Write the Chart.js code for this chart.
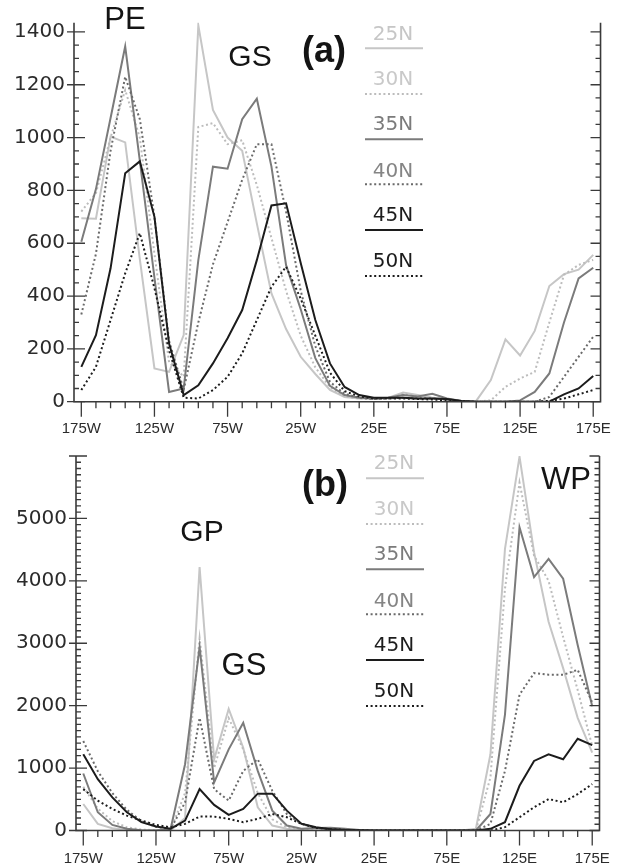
<!DOCTYPE html>
<html><head><meta charset="utf-8">
<script src="https://cdn.jsdelivr.net/npm/chart.js@4.4.1/dist/chart.umd.min.js"></script>
<style>
html,body{margin:0;padding:0;background:#fff;width:629px;height:867px;overflow:hidden}
canvas{position:absolute;left:0}
#ca{top:0}
#cb{top:435px}
</style></head><body>
<canvas id="ca" width="629" height="435"></canvas>
<canvas id="cb" width="629" height="432"></canvas>
<script>
// ---------------- data ----------------
const lon = [-175,-165,-155,-145,-135,-125,-115,-105,-95,-85,-75,-65,-55,-45,-35,-25,-15,-5,5,15,25,35,45,55,65,75,85,95,105,115,125,135,145,155,165,175];
const seriesNames = ['25N','30N','35N','40N','45N','50N'];

// panel (a)
const a25 = [695,693,1004,982,540,126,113,252,1425,1105,1000,950,675,410,275,170,105,45,18,12,12,15,35,25,15,8,3,3,82,236,175,268,438,483,500,556];
const a30 = [720,790,1000,1180,1000,560,150,95,1040,1055,975,990,820,620,420,250,130,55,20,12,12,15,30,20,15,8,2,0,5,56,88,113,300,480,518,537];
const a35 = [606,805,1074,1345,913,470,37,50,536,890,882,1070,1147,890,517,350,165,60,25,15,12,15,25,20,30,12,3,0,0,0,5,37,107,300,467,507];
const a40 = [330,560,950,1230,1070,700,230,45,300,520,680,840,975,975,720,420,210,75,30,15,10,12,15,12,12,8,2,0,0,0,0,0,18,94,170,246];
const a45 = [132,252,505,865,910,700,220,25,62,145,240,347,536,743,751,525,309,145,56,25,15,15,15,12,12,10,3,0,0,0,0,0,0,28,50,97];
const a50 = [44,132,309,486,638,430,195,15,12,44,94,183,309,435,511,390,250,110,40,20,12,12,12,10,8,5,2,0,0,0,0,0,3,12,28,44];

// panel (b)
const b25 = [425,106,37,10,0,0,0,200,4220,1141,1948,1327,372,80,27,10,5,5,5,0,0,0,0,0,0,0,0,27,1221,4512,5990,4459,3344,2601,1805,1247];
const b30 = [700,350,150,50,15,5,0,600,3079,1000,1800,1300,600,180,50,15,10,5,5,0,0,0,0,0,0,0,0,0,850,3875,5573,4405,4000,3100,2250,1350];
const b35 = [913,292,90,27,5,0,20,1062,2940,770,1300,1725,955,318,80,27,40,45,30,10,0,0,0,0,0,0,0,0,265,1858,4857,4060,4352,4034,2972,1990];
const b40 = [1433,950,600,330,150,60,20,450,1805,663,478,955,1141,637,265,106,42,20,10,5,0,0,0,0,0,0,0,0,106,955,2176,2521,2495,2495,2574,2050];
const b45 = [1221,823,531,292,133,64,27,159,663,410,250,345,590,590,318,110,53,20,10,5,0,0,0,0,0,0,0,0,27,133,716,1115,1221,1141,1470,1369];
const b50 = [663,478,345,239,160,90,50,106,223,223,186,133,186,265,212,106,42,20,10,5,0,0,0,0,0,0,0,0,0,53,212,372,504,451,584,743];

// ticks
const xTickValues = [-175,-125,-75,-25,25,75,125,175];
const xTickLabels = ['175W','125W','75W','25W','25E','75E','125E','175E'];
const yTicksA = [0,200,400,600,800,1000,1200,1400];
const yTicksB = [0,1000,2000,3000,4000,5000];

// ---------------- styles ----------------
const styles = [
  {color:'#c6c6c6', text:'#c6c6c6', dash:[]},
  {color:'#bcbcbc', text:'#c9c9c9', dash:[2,2.6]},
  {color:'#7b7b7b', text:'#7b7b7b', dash:[]},
  {color:'#6a6a6a', text:'#858585', dash:[2,2.6]},
  {color:'#1c1c1c', text:'#1c1c1c', dash:[]},
  {color:'#1c1c1c', text:'#1c1c1c', dash:[2,2.6]}
];

function decorPlugin(cfg){
  return {
    id:'decor',
    afterDatasetsDraw(chart){
      const {ctx, chartArea:ca, scales:{x,y}} = chart;
      ctx.save();
      ctx.strokeStyle = '#3a3a3a';
      ctx.lineWidth = 1.6;
      ctx.beginPath();
      ctx.moveTo(ca.left, ca.top); ctx.lineTo(ca.left, ca.bottom);
      ctx.lineTo(ca.right, ca.bottom); ctx.lineTo(ca.right, ca.top);
      ctx.stroke();
      ctx.lineWidth = 1.3;
      ctx.beginPath();
      // y ticks
      for (let v = 0; v <= y.max + 1e-6; v += cfg.minor){
        const py = y.getPixelForValue(v);
        const major = Math.abs(v % cfg.major) < 1e-6;
        if (major){
          ctx.moveTo(ca.left - 7, py); ctx.lineTo(ca.left + 11, py);
          ctx.moveTo(ca.right - 10, py); ctx.lineTo(ca.right, py);
        } else {
          ctx.moveTo(ca.left, py); ctx.lineTo(ca.left + 5, py);
          ctx.moveTo(ca.right - 5, py); ctx.lineTo(ca.right, py);
        }
      }
      // x ticks
      for (let lo = -175; lo <= 175; lo += 10){
        const px = x.getPixelForValue(lo);
        const major = ((lo + 175) % 50) === 0;
        ctx.moveTo(px, ca.bottom); ctx.lineTo(px, ca.bottom + (major ? 15 : 6.5));
      }
      ctx.stroke();

      // legend
      ctx.textAlign = 'center';
      ctx.textBaseline = 'middle';
      cfg.legend.forEach((L, i) => {
        const s = styles[i];
        ctx.fillStyle = s.text;
        ctx.font = '20px "DejaVu Sans"';
        ctx.fillText(seriesNames[i], cfg.legX, L[0]);
        ctx.strokeStyle = s.color;
        ctx.lineWidth = 2;
        ctx.setLineDash(s.dash);
        ctx.beginPath();
        ctx.moveTo(cfg.legX0, L[1]); ctx.lineTo(cfg.legX1, L[1]);
        ctx.stroke();
        ctx.setLineDash([]);
      });
      // annotations
      ctx.fillStyle = '#141414';
      cfg.notes.forEach(n => {
        ctx.font = n.font;
        ctx.fillText(n.text, n.x, n.y);
      });
      ctx.restore();
    }
  };
}

function makeChart(id, vals, cfg){
  const datasets = vals.map((arr, i) => ({
    label: seriesNames[i],
    data: lon.map((lo, j) => ({x: lo, y: arr[j]})),
    borderColor: styles[i].color,
    borderDash: styles[i].dash,
    borderWidth: 2,
    borderCapStyle: 'butt',
    pointRadius: 0,
    tension: 0,
    fill: false,
    order: 6 - i
  }));
  return new Chart(document.getElementById(id), {
    type: 'line',
    data: {datasets},
    options: {
      responsive: false,
      animation: false,
      devicePixelRatio: 1,
      layout: {padding: {left: 0, right: cfg.right, top: cfg.top, bottom: 0}},
      plugins: {legend: {display: false}, tooltip: {enabled: false}},
      scales: {
        x: {
          type: 'linear', min: -180, max: 180,
          grid: {display: false, drawTicks: false}, border: {display: false},
          afterBuildTicks: s => { s.ticks = xTickValues.map(v => ({value: v})); },
          afterFit: s => { s.height = cfg.bottomH; },
          ticks: {padding: cfg.xpad, maxRotation: 0, autoSkip: false, color: '#2b2b2b',
            font: {family: '"Liberation Sans", Arial', size: 15},
            callback: (v, i) => xTickLabels[i]}
        },
        y: {
          type: 'linear', min: 0, max: cfg.ymax,
          grid: {display: false, drawTicks: false}, border: {display: false},
          afterBuildTicks: s => { s.ticks = cfg.yticks.map(v => ({value: v})); },
          afterFit: s => { s.width = cfg.left; },
          ticks: {padding: 9, color: '#2b2b2b', font: {family: '"DejaVu Sans"', size: 20},
            callback: v => String(v)}
        }
      }
    },
    plugins: [decorPlugin(cfg)]
  });
}

makeChart('ca', [a25,a30,a35,a40,a45,a50], {
  ymax: 1435, yticks: yTicksA, minor: 50, major: 200,
  left: 74, right: 19, top: 22.7, bottomH: 33.3, xpad: 18,
  legX: 393, legX0: 365, legX1: 423,
  legend: [[34.5,48.3],[80,94],[125,139.3],[171.7,184.3],[216,230],[261.7,276]],
  notes: [
    {text:'PE', x:125, y:20, font:'31px "Liberation Sans", Arial'},
    {text:'GS', x:250, y:58, font:'30px "Liberation Sans", Arial'},
    {text:'(a)', x:324, y:52, font:'bold 36px "Liberation Sans", Arial'}
  ]
});

makeChart('cb', [b25,b30,b35,b40,b45,b50], {
  ymax: 6000, yticks: yTicksB, minor: 100, major: 1000,
  left: 76, right: 19, top: 18.3, bottomH: 36.5, xpad: 19,
  legX: 394, legX0: 366, legX1: 424,
  legend: [[28.3,43.3],[75,89],[120,134.3],[166.7,179.3],[211,225],[256.7,271]],
  notes: [
    {text:'(b)', x:325, y:51, font:'bold 36px "Liberation Sans", Arial'},
    {text:'GP', x:202, y:98, font:'30px "Liberation Sans", Arial'},
    {text:'GS', x:244, y:231, font:'31px "Liberation Sans", Arial'},
    {text:'WP', x:566, y:45, font:'31px "Liberation Sans", Arial'}
  ]
});
</script>
</body></html>
